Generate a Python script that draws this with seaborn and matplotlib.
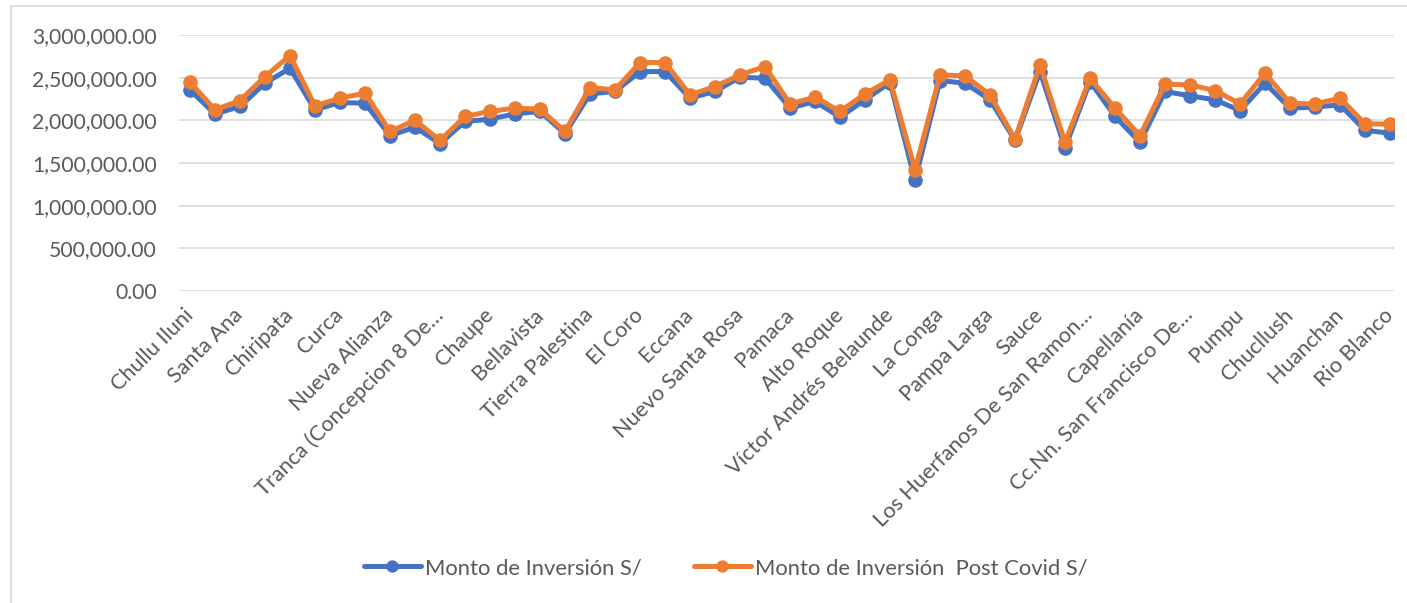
import numpy as np
import pandas as pd
import matplotlib
matplotlib.use("Agg")
import matplotlib.pyplot as plt
import seaborn as sns
from matplotlib.patches import Rectangle
from matplotlib.ticker import FuncFormatter

sns.set_style("white")
plt.rcParams['font.family'] = ['Lato', 'DejaVu Sans']

# labels shown on the axis (every other community)
etiquetas = ["Chullu Iluni", "Santa Ana", "Chiripata", "Curca", "Nueva Alianza",
             "Tranca (Concepcion 8 De…", "Chaupe", "Bellavista", "Tierra Palestina",
             "El Coro", "Eccana", "Nuevo Santa Rosa", "Pamaca", "Alto Roque",
             "Víctor Andrés Belaunde", "La Conga", "Pampa Larga", "Sauce",
             "Los Huerfanos De San Ramon…", "Capellanía", "Cc.Nn. San Francisco De…",
             "Pumpu", "Chucllush", "Huanchan", "Rio Blanco"]

# montos (S/), 49 points
monto = [2357000, 2073000, 2162000, 2435000, 2610000, 2123000, 2209000, 2200000,
         1820000, 1920000, 1726000, 1987000, 2014000, 2076000, 2104000, 1843000,
         2310000, 2338000, 2571000, 2571000, 2260000, 2338000, 2505000, 2493000,
         2143000, 2221000, 2037000, 2240000, 2443000, 1297000, 2466000, 2435000,
         2240000, 1765000, 2571000, 1675000, 2454000, 2045000, 1741000, 2338000,
         2287000, 2240000, 2115000, 2435000, 2143000, 2154000, 2182000, 1882000,
         1850000]
monto_post = [2447000, 2123000, 2232000, 2513000, 2758000, 2170000, 2260000, 2318000,
              1870000, 2000000, 1765000, 2045000, 2104000, 2143000, 2131000, 1870000,
              2384000, 2357000, 2677000, 2677000, 2299000, 2396000, 2532000, 2630000,
              2193000, 2271000, 2104000, 2310000, 2474000, 1422000, 2532000, 2520000,
              2299000, 1780000, 2649000, 1741000, 2493000, 2143000, 1819000, 2423000,
              2415000, 2349000, 2193000, 2552000, 2201000, 2190000, 2260000, 1960000,
              1955000]

serie1 = "Monto de Inversión S/"
serie2 = "Monto de Inversión  Post Covid S/"

df = pd.DataFrame({"idx": np.arange(len(monto)), serie1: monto, serie2: monto_post})
long = df.melt(id_vars="idx", var_name="serie", value_name="monto")

fig = plt.figure(figsize=(14.07, 6.03), dpi=100)
ax = fig.add_axes([0.1272, 0.5174, 0.8636, 0.4246])

sns.lineplot(data=long, x="idx", y="monto", hue="serie",
             palette={serie1: "#4472C4", serie2: "#ED7D31"},
             marker="o", markersize=10.5, markeredgewidth=0, linewidth=3.6,
             ax=ax)

ax.set_xlim(-0.44, 48.16)
ax.set_ylim(0, 3000000)
ax.set_yticks(np.arange(0, 3000001, 500000))
ax.yaxis.set_major_formatter(FuncFormatter(lambda v, p: f"{v:,.2f}"))
# tick marks are hidden; nudge them a bit left so the rotated labels end at the point
ax.set_xticks(np.arange(0, len(monto), 2) - 0.28)
ax.set_xticklabels(etiquetas, rotation=45, ha="right", va="top", rotation_mode="anchor")
ax.grid(axis="y", color="#d9d9d9", linewidth=1.2)
ax.set_axisbelow(True)
for s in ax.spines.values():
    s.set_visible(False)
ax.tick_params(axis="y", length=0, pad=16, labelsize=15.2, labelcolor="#595959")
ax.tick_params(axis="x", length=0, pad=10, labelsize=15.6, labelcolor="#595959")
ax.set_xlabel("")
ax.set_ylabel("")

h, l = ax.get_legend_handles_labels()
ax.legend_.remove()
fig.legend(h, l, loc="center", bbox_to_anchor=(0.516, 0.058), ncol=2, frameon=False,
           fontsize=15.8, labelcolor="#595959", handlelength=2.6, handletextpad=0.2,
           columnspacing=2.35, markerscale=0.85)

# chart border
fig.patches.append(Rectangle((11 / 1407, -0.1), 1.2, 1 - 6 / 603 + 0.1,
                             transform=fig.transFigure, fill=False,
                             edgecolor="#d9d9d9", linewidth=1.2))

fig.savefig("out.png", dpi=100)
